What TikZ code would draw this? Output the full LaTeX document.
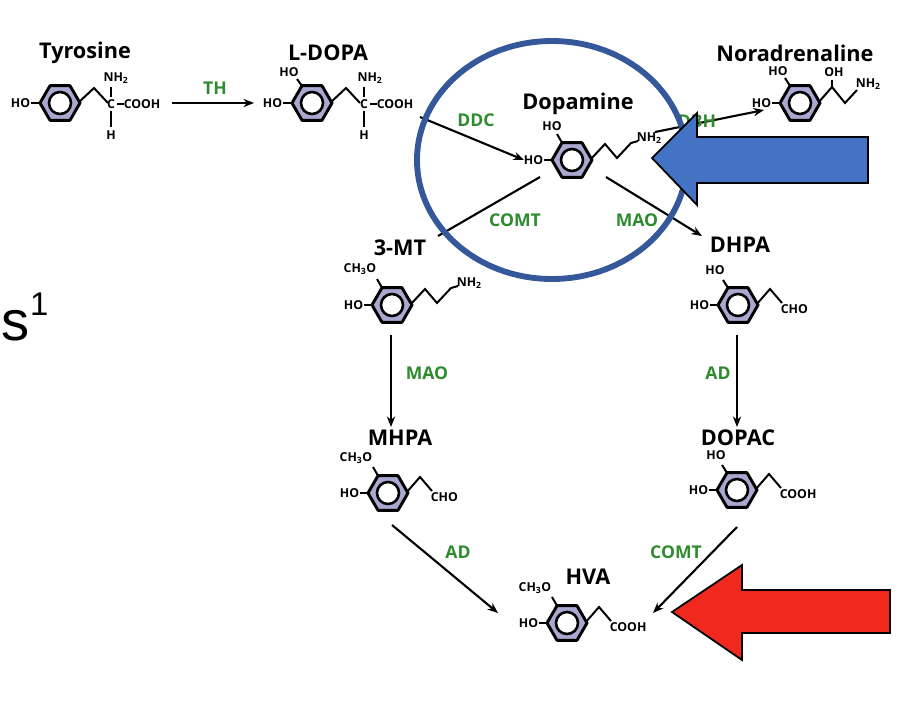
\documentclass[tikz,border=0pt]{standalone}
\usepackage{fontspec}
\setmainfont{Open Sans}
\newfontfamily\arial{Liberation Sans}
\usetikzlibrary{arrows.meta}
\definecolor{ringfill}{HTML}{A9A8D0}
\definecolor{enz}{HTML}{2E8B2E}
\definecolor{circ}{HTML}{34589A}
\definecolor{barrow}{HTML}{4472C4}
\definecolor{rarrow}{HTML}{F0281E}
\tikzset{
 x=0.03cm,y=-0.03cm,
 benz/.pic={\draw[fill=ringfill,line width=2.5pt,line join=round] (20,0)--(10,-17.3)--(-10,-17.3)--(-20,0)--(-10,17.3)--(10,17.3)--cycle;
   \draw[line width=2.2pt,fill=white] (0,0) circle (11);},
 bond/.style={line width=1.7pt},
 atom/.style={font=\bfseries\fontsize{10.5}{11}\selectfont,inner sep=0.5pt},
 title/.style={font=\bfseries\fontsize{18.5}{19}\selectfont,inner sep=0pt},
 enzl/.style={font=\bfseries\fontsize{15}{16}\selectfont,text=enz,inner sep=0pt},
 rx/.style={line width=1.8pt,-{Stealth[length=9pt,width=7pt]}},
}
\begin{document}
\begin{tikzpicture}
\useasboundingbox (0,0) rectangle (915,714);
% Tyrosine
\node[title] (tyrT) at (85,53) {Tyrosine};
\draw[bond] (42,103)--(31,103); \node[atom,anchor=east] (tyrHO) at (31,103) {HO};
\draw[bond] (78,103)--(94,88)--(108,103);
\node[atom] (tyrC) at (111,104) {C};
\node[atom] (tyrN) at (116,78) {NH\textsubscript{2}};
\node[atom] (tyrH) at (111,135) {H};
\draw[bond] (111,87)--(111,97) (111,111)--(111,127) (117,104)--(124,104);
\node[atom,anchor=west] (tyrCOOH) at (123,104) {COOH};
% L-DOPA
\node[title] (ldT) at (328,53) {L-DOPA};
\draw[bond] (294,103)--(283,103); \node[atom,anchor=east] (ldHO) at (283,103) {HO};
\draw[bond] (303,87.4)--(297,79); \node[atom] (ldHO2) at (289,72) {HO};
\draw[bond] (330,103)--(346,88)--(360,103);
\node[atom] (ldC) at (364,104) {C};
\node[atom] (ldN) at (370,78) {NH\textsubscript{2}};
\node[atom] (ldH) at (364,135) {H};
\draw[bond] (364,87)--(364,97) (364,111)--(364,127) (370,104)--(377,104);
\node[atom,anchor=west] (ldCOOH) at (376,104) {COOH};
% Dopamine
\node[title] (daT) at (578,104) {Dopamine};
\draw[bond] (554,160)--(544,160); \node[atom,anchor=east] (daHO) at (544,160) {HO};
\draw[bond] (563,144.4)--(557,134); \node[atom] (daHO2) at (552,126) {HO};
\draw[bond] (590,160)--(605,144)--(617,158)--(631,143)--(638,141);
\node[atom,anchor=west] (daN) at (636,138) {NH\textsubscript{2}};
% Noradrenaline
\node[title] (naT) at (795,53) {Noradrenaline};
\draw[bond] (782,103)--(772,103); \node[atom,anchor=east] (naHO) at (772,103) {HO};
\draw[bond] (791,87.4)--(785,78); \node[atom] (naHO2) at (778,71) {HO};
\draw[bond] (818,103)--(832,87)--(845,103)--(857,90);
\draw[bond] (832,87)--(832,80); \node[atom] (naOH) at (834,72) {OH};
\node[atom,anchor=west] (naN) at (855,84) {NH\textsubscript{2}};
% 3-MT
\node[title] (mtT) at (400,248) {3-MT};
\draw[bond] (374,305)--(364,305); \node[atom,anchor=east] (mtHO) at (364,305) {HO};
\draw[bond] (383,289.4)--(377,279); \node[atom] (mtCH) at (360,269) {CH\textsubscript{3}O};
\draw[bond] (410,305)--(425,289)--(437,303)--(451,288)--(458,286);
\node[atom,anchor=west] (mtN) at (456,283) {NH\textsubscript{2}};
% DHPA
\node[title] (dhT) at (740,245) {DHPA};
\draw[bond] (720,305)--(710,305); \node[atom,anchor=east] (dhHO) at (710,305) {HO};
\draw[bond] (729,289.4)--(723,280); \node[atom] (dhHO2) at (715,270) {HO};
\draw[bond] (756,305)--(770,289)--(782,303);
\node[atom,anchor=west] (dhCHO) at (780,309) {CHO};
% MHPA
\node[title] (mhT) at (400,438) {MHPA};
\draw[bond] (370,493)--(360,493); \node[atom,anchor=east] (mhHO) at (360,493) {HO};
\draw[bond] (379,477.4)--(373,467); \node[atom] (mhCH) at (356,458) {CH\textsubscript{3}O};
\draw[bond] (406,493)--(420,477)--(432,491);
\node[atom,anchor=west] (mhCHO) at (430,497) {CHO};
% DOPAC
\node[title] (doT) at (738,438) {DOPAC};
\draw[bond] (719,490)--(709,490); \node[atom,anchor=east] (doHO) at (709,490) {HO};
\draw[bond] (728,474.4)--(722,465); \node[atom] (doHO2) at (716,455) {HO};
\draw[bond] (755,490)--(769,474)--(781,488);
\node[atom,anchor=west] (doCOOH) at (779,494) {COOH};
% HVA
\node[title] (hvT) at (588,577) {HVA};
\draw[bond] (549,623)--(539,623); \node[atom,anchor=east] (hvHO) at (539,623) {HO};
\draw[bond] (558,607.4)--(552,597); \node[atom] (hvCH) at (535,588) {CH\textsubscript{3}O};
\draw[bond] (585,623)--(599,607)--(611,621);
\node[atom,anchor=west] (hvCOOH) at (609,627) {COOH};
% rings
\pic at (60,103) {benz};
\pic at (312,103) {benz};
\pic at (572,160) {benz};
\pic at (800,103) {benz};
\pic at (392,305) {benz};
\pic at (738,305) {benz};
\pic at (388,493) {benz};
\pic at (737,490) {benz};
\pic at (567,623) {benz};
% reaction arrows
\coordinate (a1) at (172,103); \coordinate (b1) at (254,103);
\draw[rx] (a1)--(b1); \node[enzl] (eTH) at (215,88) {TH};
\coordinate (a2) at (420,117); \coordinate (b2) at (524,160);
\draw[rx] (a2)--(b2); \node[enzl] (eDDC) at (476,120) {DDC};
\coordinate (a3) at (655,132); \coordinate (b3) at (764,110);
\draw[rx] (a3)--(b3); \node[enzl] (eDBH) at (697,121) {DBH};
\coordinate (a4) at (540,177); \coordinate (b4) at (438,236);
\draw[line width=1.8pt] (a4)--(b4); \node[enzl] (eCOMT1) at (515,220) {COMT};
\coordinate (a5) at (606,177); \coordinate (b5) at (702,236);
\draw[rx] (a5)--(b5); \node[enzl] (eMAO1) at (637,220) {MAO};
\coordinate (a6) at (391,335); \coordinate (b6) at (391,427);
\draw[rx] (a6)--(b6); \node[enzl] (eMAO2) at (427,373) {MAO};
\coordinate (a7) at (737,335); \coordinate (b7) at (737,427);
\draw[rx] (a7)--(b7); \node[enzl] (eAD1) at (718,373) {AD};
\coordinate (a8) at (392,525); \coordinate (b8) at (498,613);
\draw[rx] (a8)--(b8); \node[enzl] (eAD2) at (458,552) {AD};
\coordinate (a9) at (737,527); \coordinate (b9) at (653,613);
\draw[rx] (a9)--(b9); \node[enzl] (eCOMT2) at (676,552) {COMT};
% highlight ellipse
\draw[circ,line width=5pt] (552,160) ellipse [x radius=135, y radius=119];
% block arrows
\draw[fill=barrow,line width=1.5pt,line join=miter] (652,158)--(697,113)--(697,137)--(868,137)--(868,183)--(697,183)--(697,205)--cycle;
\draw[fill=rarrow,line width=1.5pt,line join=miter] (672,612)--(742,565)--(742,590)--(890,590)--(890,633)--(742,633)--(742,660)--cycle;
% s^1
\node[font=\arial\fontsize{48}{50}\selectfont,anchor=base west,inner sep=0pt] (s1) at (1,340) {s};
\node[font=\arial\fontsize{28}{30}\selectfont,anchor=base west,inner sep=0pt] (sup1) at (30,315) {1};
\end{tikzpicture}
\end{document}
